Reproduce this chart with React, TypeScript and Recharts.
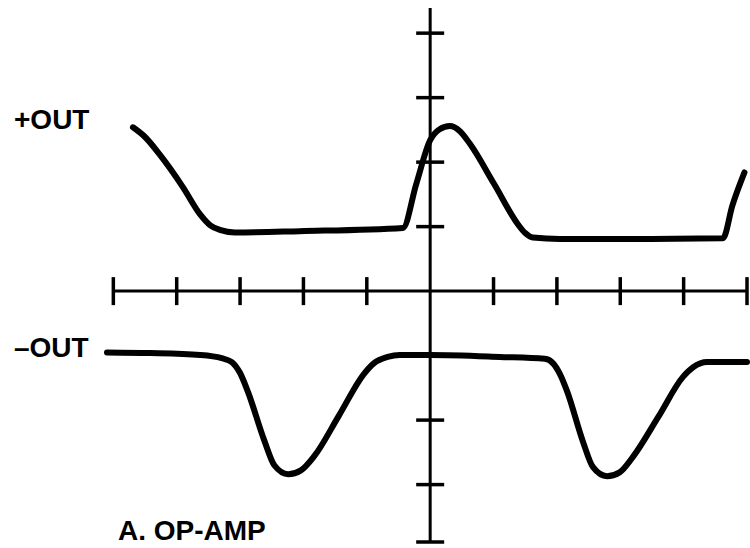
import React from "react";
import { ComposedChart, Line, Scatter, XAxis, YAxis, ReferenceLine } from "recharts";

// +OUT trace (time in divisions, volts in divisions)
const plusOutX = [-4.69, -4.5, -4.27, -3.9, -3.63, -3.47, -3.32, -3.08, -2.06, -0.43, -0.22, 0, 0.15, 0.31, 0.47, 0.63, 1.01, 1.39, 1.5, 1.62, 2.05, 3.47, 4.62, 4.77, 4.96];
const plusOutY = [2.54, 2.39, 2.12, 1.61, 1.19, 1.02, 0.95, 0.91, 0.93, 0.98, 1.66, 2.34, 2.51, 2.56, 2.48, 2.28, 1.66, 1.03, 0.9, 0.83, 0.81, 0.81, 0.82, 1.33, 1.84];

// -OUT trace
const minusOutX = [-5.1, -4.42, -3.63, -3.29, -3.13, -3.0, -2.88, -2.62, -2.46, -2.24, -2.04, -1.83, -1.44, -1.05, -0.89, -0.67, -0.48, 0, 1.1, 1.81, 1.94, 2.05, 2.16, 2.41, 2.57, 2.79, 2.99, 3.2, 3.6, 3.99, 4.15, 4.37, 5.0];
const minusOutY = [-0.95, -0.96, -0.99, -1.04, -1.1, -1.27, -1.55, -2.31, -2.7, -2.84, -2.78, -2.56, -1.93, -1.29, -1.12, -1.02, -0.99, -0.99, -1.02, -1.05, -1.12, -1.29, -1.55, -2.33, -2.73, -2.87, -2.81, -2.57, -1.95, -1.33, -1.18, -1.1, -1.1];

const xTicks = [-5, -4, -3, -2, -1, 1, 2, 3, 4, 5];
const yTicks = [4, 3, 2, 1, -1, -2, -3, -3.89];

const xMin = -5;
const xMax = 5;
const yTop = 4.39;
const yBottom = -3.89;

const plusOut = plusOutX.map((x, i) => ({ x, y: plusOutY[i] }));
const minusOut = minusOutX.map((x, i) => ({ x, y: minusOutY[i] }));
const xTickData = xTicks.map((x) => ({ x, y: 0 }));
const yTickData = yTicks.map((y) => ({ x: 0, y }));

const XTickMark = (props: any) => (
  <line x1={props.cx} y1={props.cy - 14} x2={props.cx} y2={props.cy + 14} stroke="#000" strokeWidth={3.5} />
);

const YTickMark = (props: any) => (
  <line x1={props.cx - 14} y1={props.cy} x2={props.cx + 14} y2={props.cy} stroke="#000" strokeWidth={3.5} />
);

const labelStyle: React.CSSProperties = {
  position: "absolute",
  fontFamily: "'Liberation Sans', Arial, sans-serif",
  fontWeight: "bold",
  fontSize: "28px",
  lineHeight: "28px",
  color: "#000",
  whiteSpace: "nowrap",
};

export default function App() {
  return (
    <div style={{ position: "absolute", left: 0, top: 0, width: 750, height: 548, background: "#fff" }}>
      <ComposedChart width={750} height={548} margin={{ top: 8, right: 3, bottom: 6, left: 107 }}>
        <XAxis type="number" dataKey="x" domain={[-5.1, 5]} hide />
        <YAxis type="number" dataKey="y" domain={[yBottom, yTop]} hide />
        <ReferenceLine
          segment={[{ x: xMin, y: 0 }, { x: xMax, y: 0 }]}
          stroke="#000"
          strokeWidth={3}
        />
        <ReferenceLine
          segment={[{ x: 0, y: yTop }, { x: 0, y: yBottom }]}
          stroke="#000"
          strokeWidth={3}
        />
        <Scatter data={xTickData} shape={XTickMark} isAnimationActive={false} />
        <Scatter data={yTickData} shape={YTickMark} isAnimationActive={false} />
        <Line
          data={plusOut}
          dataKey="y"
          type="monotone"
          stroke="#000"
          strokeWidth={6}
          strokeLinecap="round"
          strokeLinejoin="round"
          dot={false}
          isAnimationActive={false}
        />
        <Line
          data={minusOut}
          dataKey="y"
          type="monotone"
          stroke="#000"
          strokeWidth={6}
          strokeLinecap="round"
          strokeLinejoin="round"
          dot={false}
          isAnimationActive={false}
        />
      </ComposedChart>
      <div style={{ ...labelStyle, left: 14, top: 106 }}>+OUT</div>
      <div style={{ ...labelStyle, left: 14, top: 334 }}>–OUT</div>
      <div style={{ ...labelStyle, left: 118, top: 517 }}>A. OP-AMP</div>
    </div>
  );
}
